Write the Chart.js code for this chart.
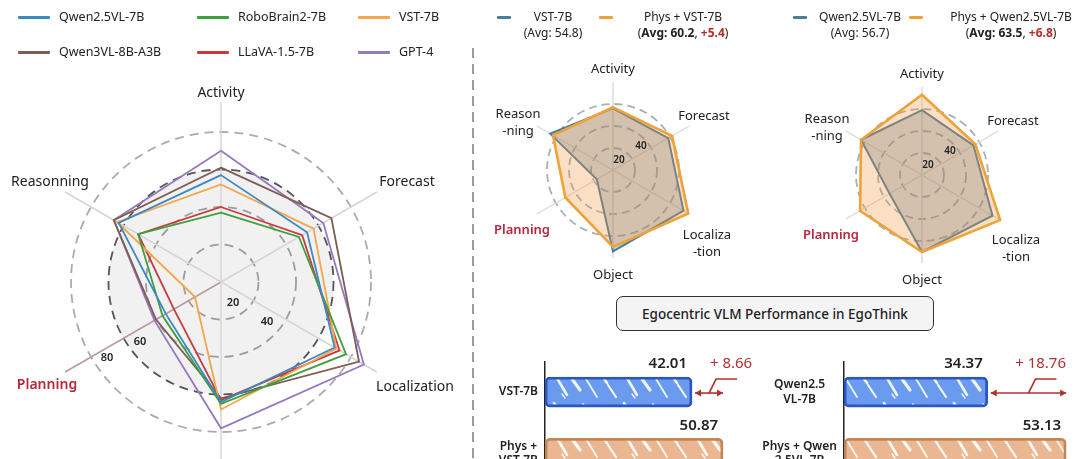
<!DOCTYPE html>
<html>
<head>
<meta charset="utf-8">
<title>EgoThink VLM radar</title>
<script src="https://cdn.jsdelivr.net/npm/chart.js@4.4.1/dist/chart.umd.min.js"></script>
<style>
  html, body { margin: 0; padding: 0; background: #fff; }
  body { position: relative; width: 1080px; height: 459px; overflow: hidden; font-family: "Noto Sans", sans-serif; color: #222; }
  canvas { position: absolute; }
  .swatch { position: absolute; height: 3px; border-radius: 1px; }
  .ltext { position: absolute; white-space: nowrap; line-height: 16px; }
  .divider { position: absolute; left: 472px; top: 48px; width: 2px; height: 420px;
    background: repeating-linear-gradient(to bottom, #9a9a9a 0 10px, transparent 10px 16px); }
  .title-box { position: absolute; left: 616px; top: 296px; width: 318px; height: 35px; box-sizing: border-box;
    border: 1.5px solid #333; border-radius: 7px; background: #f4f4f4; font-size: 13.5px; font-weight: 500;
    display: flex; align-items: center; justify-content: center; }
  .red { color: #b82b2b; }
</style>
</head>
<body>
<canvas id="bigRadar" width="470" height="520" style="left:0;top:0"></canvas>
<canvas id="radarVst" width="290" height="240" style="left:480px;top:55px"></canvas>
<canvas id="radarQwen" width="300" height="245" style="left:780px;top:55px"></canvas>
<canvas id="barVst" width="300" height="200" style="left:480px;top:340px"></canvas>
<canvas id="barQwen" width="340" height="200" style="left:740px;top:340px"></canvas>
<div class="divider"></div>
<div class="title-box">Egocentric VLM Performance in EgoThink</div>
<div id="legendBig"></div>
<div id="legendPairs"></div>
<script>
// big radar: six models on six EgoThink dimensions
const bigAxes = ['Activity', 'Forecast', 'Localization', 'Object', 'Planning', 'Reasonning'];
const bigModels = ['Qwen2.5VL-7B', 'RoboBrain2-7B', 'VST-7B', 'Qwen3VL-8B-A3B', 'LLaVA-1.5-7B', 'GPT-4'];
const qwen25Scores = [57, 53, 70, 64, 34, 63];
const roboBrainScores = [37, 48, 77, 65, 36, 51];
const vstScores = [52, 57, 71, 68, 16, 64];
const qwen3Scores = [61, 68, 85, 62, 40, 66];
const llavaScores = [40, 50, 73, 63, 29, 51];
const gpt4Scores = [70, 63, 88, 78, 41, 66];
const bigTicks = [20, 40, 60, 80];

// small radars: base model vs Phys + model
const smallAxes = [['Activity'], ['Forecast'], ['Localiza', '-tion'], ['Object'], ['Planning'], ['Reason', '-ning']];
const vstBase = [56, 58, 74, 74, 17, 66];
const vstPhys = [57, 62, 79, 70, 50, 63];
const qwenBase = [59, 54, 74, 70, 34, 64];
const qwenPhys = [73, 56, 82, 70, 65, 64];
const smallTicks = [20, 40];
const pairNames = [['VST-7B', 'Phys + VST-7B'], ['Qwen2.5VL-7B', 'Phys + Qwen2.5VL-7B']];
const pairAvg = [[54.8, 60.2], [56.7, 63.5]];
const pairGain = ['+5.4', '+6.8'];

// bars
const vstBarLabels = [['VST-7B'], ['Phys +', 'VST-7B']];
const vstBarValues = [42.01, 50.87];
const vstGain = '+ 8.66';
const qwenBarLabels = [['Qwen2.5', 'VL-7B'], ['Phys + Qwen', '2.5VL-7B']];
const qwenBarValues = [34.37, 53.13];
const qwenGain = '+ 18.76';

const bigColors = ['#3d88c0', '#3ca03c', '#f5a54a', '#7e5d55', '#c9393e', '#9478c0'];
const FONT = '"Noto Sans", sans-serif';
const PLAN_RED = '#b5273a';

// ---------- html legends ----------
const legendBig = document.getElementById('legendBig');
const colX = [18, 197, 358];
const rowY = [17, 52];
bigModels.forEach((name, i) => {
  const col = i % 3, row = Math.floor(i / 3);
  const sw = document.createElement('div');
  sw.className = 'swatch';
  sw.style.cssText = `left:${colX[col]}px;top:${rowY[row] - 1.5}px;width:32px;background:${bigColors[i]}`;
  legendBig.appendChild(sw);
  const tx = document.createElement('div');
  tx.className = 'ltext';
  tx.style.cssText = `left:${colX[col] + 41}px;top:${rowY[row] - 8}px;font-size:12.5px`;
  tx.textContent = name;
  legendBig.appendChild(tx);
});

const legendPairs = document.getElementById('legendPairs');
const swX = [497, 599, 793, 909];
const txtX = [553, 683, 860, 1011];
const pairColors = ['#4c7d9a', '#eea23a'];
pairNames.forEach((pair, g) => {
  pair.forEach((name, k) => {
    const n = g * 2 + k;
    const sw = document.createElement('div');
    sw.className = 'swatch';
    sw.style.cssText = `left:${swX[n]}px;top:16px;width:14px;background:${pairColors[k]}`;
    legendPairs.appendChild(sw);
    const tx = document.createElement('div');
    tx.className = 'ltext';
    tx.style.cssText = `left:${txtX[n]}px;top:9px;font-size:12px;text-align:center;transform:translateX(-50%)`;
    const avg = k === 0
      ? `(Avg: ${pairAvg[g][k]})`
      : `(<b>Avg: ${pairAvg[g][k]}</b>, <b class="red">${pairGain[g]}</b>)`;
    tx.innerHTML = `${name}<br>${avg}`;
    legendPairs.appendChild(tx);
  });
});

// ---------- plugins ----------
function discPlugin(value, color) {
  return {
    id: 'disc',
    beforeDraw(chart) {
      const r = chart.scales.r, ctx = chart.ctx;
      ctx.save();
      ctx.fillStyle = color;
      ctx.beginPath();
      ctx.arc(r.xCenter, r.yCenter, r.getDistanceFromCenterForValue(value), 0, Math.PI * 2);
      ctx.fill();
      ctx.restore();
    }
  };
}

// axis names and ring numbers drawn around the scale centre
function radarText(cfg) {
  return {
    id: 'radarText',
    afterDraw(chart) {
      const r = chart.scales.r, ctx = chart.ctx;
      ctx.save();
      ctx.textAlign = 'center';
      ctx.textBaseline = 'middle';
      chart.data.labels.forEach((lab, i) => {
        const lines = Array.isArray(lab) ? lab : [lab];
        const [dx, dy] = cfg.spots[i];
        const plan = i === 4;
        ctx.fillStyle = plan ? PLAN_RED : '#222';
        ctx.font = `${plan ? 600 : 400} ${cfg.size}px ${FONT}`;
        lines.forEach((ln, k) => ctx.fillText(ln, r.xCenter + dx, r.yCenter + dy + k * cfg.lineH));
      });
      ctx.fillStyle = '#222';
      ctx.font = `600 ${cfg.tickSize}px ${FONT}`;
      cfg.ticks.forEach((t, i) => {
        const [dx, dy] = cfg.tickSpots[i];
        ctx.fillText(String(t), r.xCenter + dx, r.yCenter + dy);
      });
      ctx.restore();
    }
  };
}

function ringColor(values, colors) {
  return (c) => {
    const k = values.indexOf(c.tick.value);
    return k < 0 ? 'rgba(0,0,0,0)' : colors[k];
  };
}

const common = { responsive: false, animation: false, events: [],
  plugins: { legend: { display: false }, tooltip: { enabled: false } } };

// ---------- big radar ----------
const bigSeries = [qwen25Scores, roboBrainScores, vstScores, qwen3Scores, llavaScores, gpt4Scores];
new Chart('bigRadar', {
  type: 'radar',
  data: {
    labels: bigAxes,
    datasets: bigSeries.map((d, i) => ({
      label: bigModels[i], data: d, borderColor: bigColors[i], backgroundColor: 'rgba(0,0,0,0)',
      borderWidth: 1.8, pointRadius: 0, fill: false, tension: 0, clip: false
    }))
  },
  options: {
    ...common,
    layout: { padding: { left: 41, top: 102, right: 69, bottom: 58 } },
    scales: {
      r: {
        min: 0, max: 96,
        ticks: { display: false, stepSize: 20 },
        pointLabels: { display: false },
        grid: { circular: true, lineWidth: 1.8, color: ringColor(bigTicks, ['#9d9d9d', '#9d9d9d', '#555', '#ababab']) },
        border: { dash: [9, 6] },
        angleLines: { lineWidth: 1.5, color: (c) => c.index === 4 ? '#b99a9a' : '#d6d6d6' }
      }
    }
  },
  plugins: [discPlugin(60, '#f1f1f1'), radarText({
    size: 14, lineH: 16, tickSize: 11,
    spots: [[0, -189], [186, -100], [194, 105], [0, 189], [-174, 103], [-171, -100]],
    ticks: bigTicks, tickSpots: [[12, 21], [46, 40], [-81, 60], [-114, 76]]
  })]
});

// ---------- small radars ----------
function smallRadar(id, base, phys, names, pad) {
  return new Chart(id, {
    type: 'radar',
    data: {
      labels: smallAxes,
      datasets: [
        { label: names[0], data: base, borderColor: '#4c7d9a', backgroundColor: 'rgba(70,110,150,0.30)',
          borderWidth: 2, pointRadius: 0, fill: true, order: 1, clip: false },
        { label: names[1], data: phys, borderColor: '#eea23a', backgroundColor: 'rgba(240,150,60,0.30)',
          borderWidth: 2.6, pointRadius: 0, fill: true, order: 0, clip: false }
      ]
    },
    options: {
      ...common,
      layout: { padding: pad },
      scales: {
        r: {
          min: 0, max: 80,
          ticks: { display: false, stepSize: 20 },
          pointLabels: { display: false },
          grid: { circular: true, lineWidth: 1.8, color: ringColor([20, 40, 60], ['#a7b0b9', '#a7b0b9', '#a7b0b9']) },
          border: { dash: [8, 5] },
          angleLines: { lineWidth: 1.4, color: '#dadada' }
        }
      }
    },
    plugins: [radarText({
      size: 13, lineH: 17, tickSize: 10,
      spots: [[0, -101], [91, -54], [94, 65], [0, 105], [-91, 60], [-95, -56]],
      ticks: smallTicks, tickSpots: [[6, -10], [28, -24]]
    })]
  });
}
smallRadar('radarVst', vstBase, vstPhys, pairNames[0], { left: 45, top: 27, right: 69, bottom: 37 });
smallRadar('radarQwen', qwenBase, qwenPhys, pairNames[1], { left: 54, top: 32, right: 70, bottom: 37 });

// ---------- bars ----------
function sketchPattern(base) {
  const c = document.createElement('canvas');
  c.width = 70; c.height = 30;
  const g = c.getContext('2d');
  g.fillStyle = base;
  g.fillRect(0, 0, 70, 30);
  g.strokeStyle = 'rgba(255,255,255,0.9)';
  g.lineCap = 'round';
  [[4, 3, 17, 25, 2.6], [22, 9, 30, 20, 3.2], [33, 4, 47, 27, 1.8], [52, 6, 57, 13, 2.6],
   [58, 15, 66, 27, 2.2], [12, 24, 15, 28, 1.4]].forEach(([a, b, x, y, w]) => {
    g.lineWidth = w;
    g.beginPath(); g.moveTo(a, b); g.lineTo(x, y); g.stroke();
  });
  return g.createPattern(c, 'repeat');
}

function barNotes(gain) {
  return {
    id: 'barNotes',
    afterDatasetsDraw(chart) {
      const ctx = chart.ctx;
      const bars = chart.getDatasetMeta(0).data;
      const vals = chart.data.datasets[0].data;
      ctx.save();
      ctx.textBaseline = 'middle';
      ctx.textAlign = 'right';
      ctx.fillStyle = '#222';
      ctx.font = `600 15px ${FONT}`;
      bars.forEach((b, i) => ctx.fillText(vals[i].toFixed(2), b.x - 5, b.y - 28));
      // gain arrow from base bar end to phys bar value
      const x0 = bars[0].x + 3, x1 = bars[1].x, y = bars[0].y + 1;
      ctx.strokeStyle = ctx.fillStyle = '#b03030';
      ctx.lineWidth = 1.6;
      ctx.beginPath(); ctx.moveTo(x0, y); ctx.lineTo(x1, y); ctx.stroke();
      [[x0, 1], [x1, -1]].forEach(([x, s]) => {
        ctx.beginPath(); ctx.moveTo(x, y); ctx.lineTo(x + 6 * s, y - 3.5); ctx.lineTo(x + 6 * s, y + 3.5); ctx.closePath(); ctx.fill();
      });
      const xk = x0 + 0.5 * (x1 - x0);
      ctx.beginPath(); ctx.moveTo(xk, y); ctx.lineTo(xk + 7, y - 14); ctx.lineTo(xk + 28, y - 14); ctx.stroke();
      ctx.font = `15px ${FONT}`;
      ctx.textAlign = 'center';
      const w = ctx.measureText(gain).width;
      const cx = Math.min(xk + 22, chart.width - 14 - w / 2);
      ctx.fillText(gain, cx, bars[0].y - 28);
      ctx.restore();
    }
  };
}

function barChart(id, labels, values, gain, max, axisWidth, pad) {
  return new Chart(id, {
    type: 'bar',
    data: {
      labels,
      datasets: [{
        data: values,
        backgroundColor: [sketchPattern('#6a9bee'), sketchPattern('#ebb792')],
        borderColor: ['#2a55c4', '#c48555'],
        borderWidth: 2.8, borderRadius: 5, borderSkipped: false, barThickness: 30
      }]
    },
    options: {
      ...common,
      indexAxis: 'y',
      layout: { padding: pad },
      scales: {
        x: { display: false, min: 0, max },
        y: {
          afterFit: (s) => { s.width = axisWidth; },
          grid: { display: false, drawTicks: false },
          border: { display: true, color: '#222', width: 1.5 },
          ticks: { color: '#222', padding: 7, crossAlign: 'center', font: { family: FONT, size: 12, weight: 600 } }
        }
      }
    },
    plugins: [barNotes(gain)]
  });
}
barChart('barVst', vstBarLabels, vstBarValues, vstGain, 60, 65, { top: 12, bottom: 56, right: 25, left: 0 });
barChart('barQwen', qwenBarLabels, qwenBarValues, qwenGain, 55, 104, { top: 12, bottom: 56, right: 6, left: 0 });
</script>
</body>
</html>
